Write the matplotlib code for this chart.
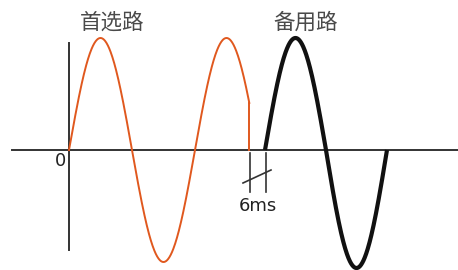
import numpy as np
import matplotlib.pyplot as plt

plt.rcParams['font.family'] = ['Noto Sans CJK SC', 'DejaVu Sans']

# wave parameters (units ~ pixels, origin where the axes cross)
main_amp = 112
main_half = 63
main_end = 180.3          # main path cut off here
backup_start = 196
backup_half = 61
backup_amp_up = 112
backup_amp_down = 118
gap_left, gap_right = 181, 197
labels = ['首选路', '备用路']
label_x = [43, 237]
gap_text = '6ms'

fig = plt.figure(figsize=(4.58, 2.70), dpi=100)
ax = fig.add_axes([0, 0, 1, 1])
ax.set_xlim(-69, 389)
ax.set_ylim(-120, 150)
ax.axis('off')

# axes lines
ax.plot([-57, 392], [0, 0], color='#333333', lw=1.4, zorder=1)
ax.plot([0, 0], [-100, 107], color='#333333', lw=1.4, zorder=1)

# main path (orange)
x1 = np.linspace(0, main_end, 400)
y1 = main_amp * np.sin(np.pi * x1 / main_half)
ax.plot(x1, y1, color='#e0581e', lw=1.4, zorder=2)
ax.plot([main_end, main_end], [y1[-1], 0], color='#e0581e', lw=1.4, zorder=2)

# backup path (black, thick)
x2 = np.linspace(backup_start, backup_start + 2 * backup_half, 400)
s2 = np.sin(np.pi * (x2 - backup_start) / backup_half)
y2 = np.where(s2 > 0, backup_amp_up * s2, backup_amp_down * s2)
ax.plot(x2, y2, color='#111111', lw=3.0, zorder=3, solid_capstyle='butt')

# 6ms gap marker
for gx in (gap_left, gap_right):
    ax.plot([gx, gx], [-3, -42], color='#333333', lw=1.2)
ax.plot([174, 202], [-33, -20], color='#333333', lw=1.2)
ax.text((gap_left + gap_right) / 2, -56, gap_text, ha='center', va='center',
        fontsize=13, color='#222222', family='DejaVu Sans')

ax.text(-3, -11, '0', ha='right', va='center', fontsize=13, color='#222222',
        family='DejaVu Sans')

for lx, t in zip(label_x, labels):
    ax.text(lx, 127, t, ha='center', va='center', fontsize=15.5,
            color='#4a4a4a')

fig.savefig('out.png', dpi=100)
